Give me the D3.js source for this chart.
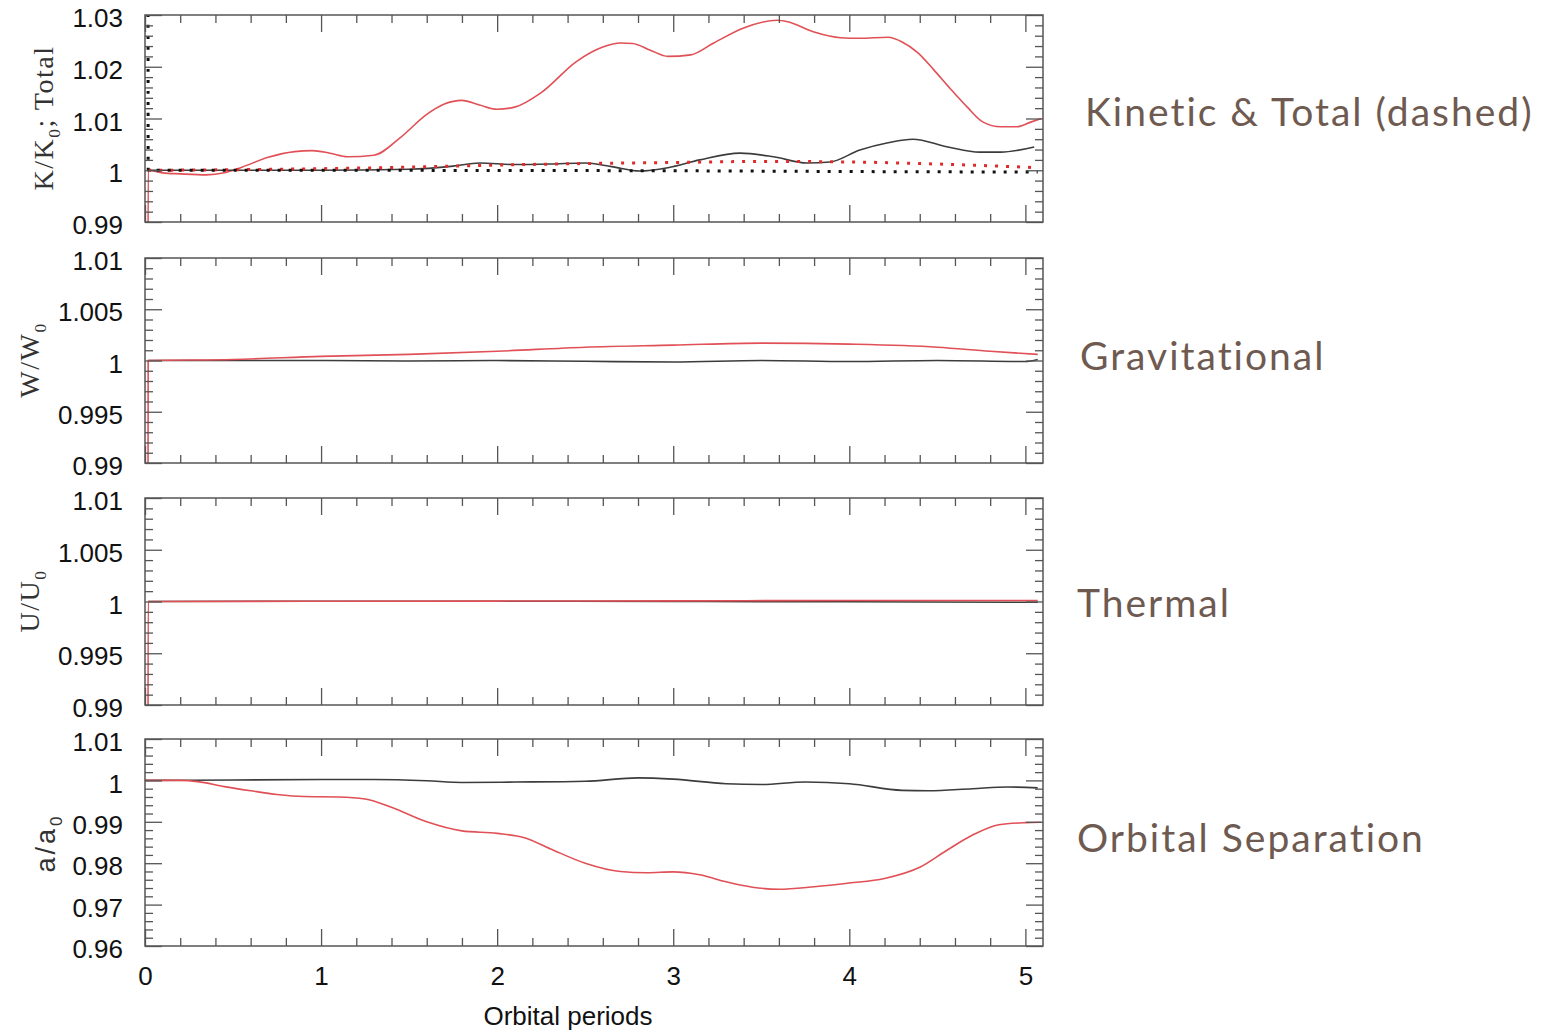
<!DOCTYPE html>
<html>
<head>
<meta charset="utf-8">
<script src="https://cdn.jsdelivr.net/npm/d3@7"></script>
<style>
body{margin:0;background:#fff;}
</style>
</head>
<body>
<div id="chart"></div>
<script>
// x = orbital periods, every series is [period, ratio]
var periodTicks=[0,1,2,3,4,5];
var kinTicks=[0.99,1,1.01,1.02,1.03];
var gravTicks=[0.99,0.995,1,1.005,1.01];
var thermTicks=[0.99,0.995,1,1.005,1.01];
var sepTicks=[0.96,0.97,0.98,0.99,1,1.01];

// kinetic (solid) + total (dotted)
var kinRed=[[0.017,0.975],[0.018,1.0],[0.1,0.9995],[0.2,0.9993],[0.35,0.9991],[0.45,0.9995],[0.55,1.0006],[0.7,1.0025],[0.85,1.0036],[0.95,1.0038],[1.05,1.0033],[1.15,1.0026],[1.3,1.0029],[1.45,1.0063],[1.6,1.0108],[1.7,1.0128],[1.8,1.0135],[1.9,1.0126],[2.0,1.0118],[2.1,1.0122],[2.25,1.0150],[2.45,1.0210],[2.6,1.0238],[2.7,1.0246],[2.77,1.0245],[2.87,1.0232],[2.97,1.0220],[3.1,1.0223],[3.23,1.0246],[3.4,1.0275],[3.59,1.0290],[3.65,1.0287],[3.8,1.0267],[3.95,1.0256],[4.06,1.0255],[4.22,1.0257],[4.3,1.0248],[4.39,1.0227],[4.48,1.0194],[4.57,1.0159],[4.67,1.0122],[4.76,1.0093],[4.86,1.0084],[4.95,1.0084],[5.03,1.0093],[5.09,1.0100]];
var kinBlack=[[0.018,1.0],[0.5,1.0],[1.0,1.0],[1.5,1.0002],[1.75,1.0008],[1.9,1.0014],[2.1,1.0011],[2.3,1.0012],[2.5,1.0014],[2.65,1.0007],[2.81,0.99985],[2.97,1.0005],[3.15,1.002],[3.38,1.0033],[3.57,1.0026],[3.76,1.0014],[3.89,1.0016],[4.06,1.0039],[4.22,1.0053],[4.36,1.006],[4.56,1.0045],[4.74,1.0035],[4.86,1.0035],[5.05,1.0045]];
var totRed=[[0.018,1.0],[0.5,1.0001],[1.0,1.0003],[1.5,1.0006],[2.0,1.001],[2.5,1.0013],[3.0,1.0015],[3.5,1.0017],[4.0,1.0016],[4.5,1.0012],[5.07,1.0005]];
var totBlack=[[0.017,1.06],[0.018,1.0],[1.0,1.0],[2.0,0.99995],[3.0,0.9999],[4.0,0.99975],[5.07,0.99965]];
// gravitational
var gravRed=[[0.017,0.985],[0.018,1.0],[0.5,1.0001],[1.0,1.0004],[1.5,1.0006],[2.0,1.0009],[2.5,1.0013],[3.0,1.0015],[3.5,1.0017],[4.0,1.0016],[4.5,1.0013],[4.8,1.0009],[5.07,1.0006]];
var gravBlack=[[0.018,1.0],[1.0,1.0],[1.5,0.99995],[2.0,1.0],[2.5,0.99992],[3.0,0.99985],[3.5,1.0],[4.0,0.9999],[4.5,1.0],[5.0,0.9999],[5.07,1.0001]];
// thermal
var thermRed=[[0.017,0.985],[0.018,1.0],[1.0,1.00002],[2.0,1.00004],[3.0,1.00006],[4.0,1.0001],[5.07,1.0001]];
var thermBlack=[[0.018,1.0],[1.0,1.00003],[2.0,1.00003],[3.0,1.0],[4.0,0.99997],[5.07,0.99993]];
// orbital separation
var sepRed=[[0,1.0],[0.2,1.0],[0.3,0.9997],[0.45,0.9985],[0.6,0.9975],[0.75,0.9966],[0.9,0.9961],[1.1,0.9960],[1.25,0.9955],[1.4,0.9935],[1.6,0.9900],[1.8,0.9878],[2.0,0.9872],[2.15,0.9862],[2.3,0.9835],[2.5,0.9800],[2.7,0.9780],[2.85,0.9777],[3.0,0.9779],[3.15,0.9772],[3.3,0.9755],[3.45,0.9742],[3.6,0.9737],[3.8,0.9743],[4.0,0.9752],[4.2,0.9763],[4.4,0.9790],[4.55,0.9830],[4.7,0.9868],[4.85,0.9893],[5.0,0.9898],[5.09,0.9899]];
var sepBlack=[[0,1.0],[0.5,1.0001],[1.0,1.0002],[1.3,1.0002],[1.6,0.9999],[1.8,0.9995],[2.1,0.9996],[2.5,0.9998],[2.8,1.0006],[3.0,1.0003],[3.3,0.9992],[3.5,0.9990],[3.75,0.9996],[4.0,0.9992],[4.3,0.9976],[4.45,0.9975],[4.7,0.9980],[4.9,0.9984],[5.07,0.9982]];

var width=1547, height=1032;
var left=145, right=1043;
var redc="#e05056", blackc="#3c3c3c", framec="#555";

var svg=d3.select("#chart").append("svg")
	.attr("width",width).attr("height",height)
	.style("font-family","'Liberation Sans',Arial,sans-serif");

var x=d3.scaleLinear().domain([0,5.1]).range([left,right]);
var xMinor=d3.range(0,5.1,0.2).map(function(d){return +d.toFixed(1);}).filter(function(d){return periodTicks.indexOf(d)<0;});

var panels=[
	{top:15,bottom:222,dom:[0.99,1.03],ticks:kinTicks,minor:0.002,
	 lines:[{d:kinRed,c:redc},{d:kinBlack,c:blackc},{d:totRed,c:"#e02a2a",dot:true},{d:totBlack,c:"#111",dot:true}],
	 title:["K/K","0","; Total"],serif:true,tx:53,ty:118,label:"Kinetic & Total (dashed)",lx:1085,ly:112},
	{top:258,bottom:463,dom:[0.99,1.01],ticks:gravTicks,minor:0.001,
	 lines:[{d:gravBlack,c:blackc},{d:gravRed,c:redc}],
	 title:["W/W","0",""],serif:true,tx:39,ty:360,label:"Gravitational",lx:1080,ly:356},
	{top:498,bottom:705,dom:[0.99,1.01],ticks:thermTicks,minor:0.001,
	 lines:[{d:thermBlack,c:blackc},{d:thermRed,c:redc}],
	 title:["U/U","0",""],serif:true,tx:39,ty:601,label:"Thermal",lx:1077,ly:603},
	{top:739,bottom:946,dom:[0.96,1.01],ticks:sepTicks,minor:0.002,
	 lines:[{d:sepBlack,c:blackc},{d:sepRed,c:redc}],
	 title:["a/a","0",""],serif:false,tx:55,ty:843,label:"Orbital Separation",lx:1077,ly:838,xlabels:true}
];

function fmt(d){return String(+d.toFixed(4));}

panels.forEach(function(p,pi){
	var y=d3.scaleLinear().domain(p.dom).range([p.bottom,p.top]);
	var n=Math.round((p.dom[1]-p.dom[0])/p.minor);
	var yMinor=d3.range(0,n+1).map(function(i){return +(p.dom[0]+i*p.minor).toFixed(4);})
		.filter(function(v){return p.ticks.indexOf(v)<0;});
	var g=svg.append("g").attr("class","panel"+pi);

	svg.append("clipPath").attr("id","clip"+pi).append("rect")
		.attr("x",left).attr("y",p.top).attr("width",right-left).attr("height",p.bottom-p.top);

	//======= lines
	var line=d3.line().x(function(d){return x(d[0]);}).y(function(d){return y(d[1]);}).curve(d3.curveMonotoneX);
	var lg=g.append("g").attr("clip-path","url(#clip"+pi+")");
	p.lines.forEach(function(l){
		lg.append("path").datum(l.d)
			.attr("fill","none").attr("stroke",l.c)
			.attr("stroke-width",l.dot?3:1.6)
			.attr("stroke-dasharray",l.dot?"3,8":null)
			.attr("d",line);
	});

	//======= ticks on four sides
	function ax(a,vals,size,labels,pad){
		var gg=g.append("g").call(a.tickValues(vals).tickSize(size).tickSizeOuter(0).tickPadding(pad||3)
			.tickFormat(labels?fmt:""));
		gg.select(".domain").remove();
		gg.selectAll(".tick line").attr("stroke",framec).attr("stroke-width",1.3);
		gg.selectAll("text").attr("font-size",26).attr("fill","#111")
			.attr("font-family","'Liberation Sans',Arial,sans-serif");
		return gg;
	}
	var yl=ax(d3.axisLeft(y),p.ticks,-17,true,22).attr("transform","translate("+left+",0)");
	yl.selectAll("text").attr("dy","0.45em");
	ax(d3.axisLeft(y),yMinor,-8,false).attr("transform","translate("+left+",0)");
	ax(d3.axisRight(y),p.ticks,-17,false).attr("transform","translate("+right+",0)");
	ax(d3.axisRight(y),yMinor,-8,false).attr("transform","translate("+right+",0)");
	ax(d3.axisTop(x),periodTicks,-17,false).attr("transform","translate(0,"+p.top+")");
	ax(d3.axisTop(x),xMinor,-8,false).attr("transform","translate(0,"+p.top+")");
	ax(d3.axisBottom(x),periodTicks,-17,!!p.xlabels,21).attr("transform","translate(0,"+p.bottom+")");
	ax(d3.axisBottom(x),xMinor,-8,false).attr("transform","translate(0,"+p.bottom+")");

	g.append("rect").attr("x",left).attr("y",p.top).attr("width",right-left).attr("height",p.bottom-p.top)
		.attr("fill","none").attr("stroke",framec).attr("stroke-width",1.5);

	//======= y title
	var t=g.append("text").attr("transform","translate("+p.tx+","+p.ty+") rotate(-90)")
		.attr("text-anchor","middle").attr("fill","#333")
		.attr("font-size",p.serif?28:27)
		.attr("letter-spacing",p.serif?1.5:3)
		.attr("font-family",p.serif?"'Liberation Serif','Times New Roman',serif":"'Liberation Sans',Arial,sans-serif");
	t.append("tspan").text(p.title[0]);
	t.append("tspan").attr("font-size","0.62em").attr("dy",7).text(p.title[1]);
	if(p.title[2]) t.append("tspan").attr("dy",-7).text(p.title[2]);

	//======= right hand label
	svg.append("text").attr("x",p.lx).attr("y",p.ly).attr("dy","0.35em")
		.attr("font-family","Lato,'Open Sans',sans-serif").attr("font-size",39)
		.attr("letter-spacing",2)
		.attr("fill","#6e5a50").text(p.label);
});

svg.append("text").attr("x",568).attr("y",1025).attr("text-anchor","middle")
	.attr("font-size",26).attr("fill","#111").text("Orbital periods");
</script>
</body>
</html>
